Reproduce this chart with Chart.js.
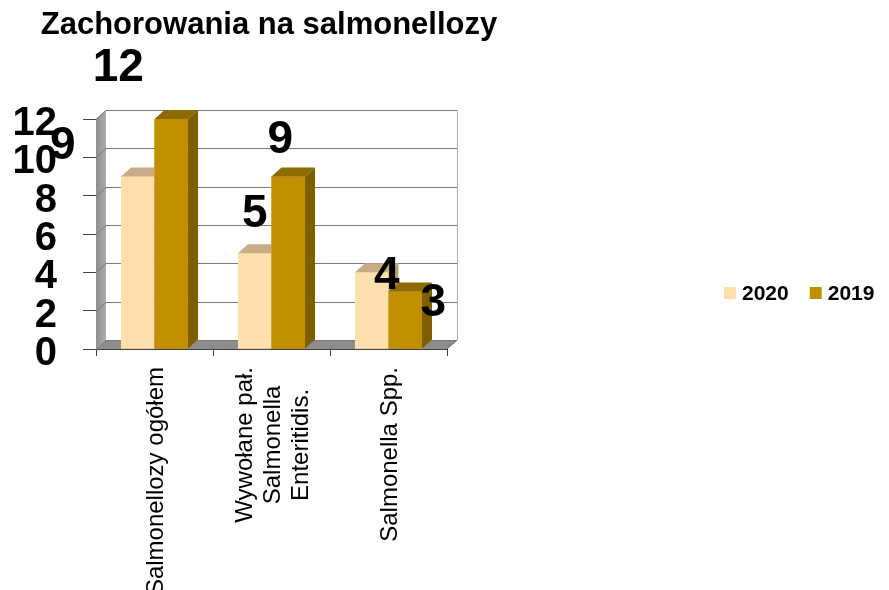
<!DOCTYPE html>
<html>
<head>
<meta charset="utf-8">
<script src="https://cdn.jsdelivr.net/npm/chart.js@4.4.1/dist/chart.umd.min.js"></script>
<style>
  html, body { margin: 0; padding: 0; background: #fff; }
</style>
</head>
<body>
<canvas id="salmonella" width="889" height="590"></canvas>
<script>
const chartTitle = 'Zachorowania na salmonellozy';
const categories = [
  'Salmonellozy ogółem',
  ['Wywołane pał.', 'Salmonella', 'Enteritidis.'],
  'Salmonella Spp.'
];
const seriesNames = ['2020', '2019'];
const values2020 = [9, 5, 4];
const values2019 = [12, 9, 3];
const yTicks = [0, 2, 4, 6, 8, 10, 12];

const FONT = '"Liberation Sans", Arial, sans-serif';
// depth of the fake 3d box
const DX = 10, DY = -9;
const faceColors = [
  {front: '#FFDFAE', top: '#C7AC86', side: '#BBA07A'},
  {front: '#C18F00', top: '#8C6B00', side: '#7D5F00'}
];
// where each value label sits, relative to the top of its bar
const labelOffsets = [
  [[-75, -30], [0, -39], [15, 4]],
  [[-53, -51], [-8, -36], [28, 12]]
];

function poly(ctx, pts, fill) {
  ctx.beginPath();
  ctx.moveTo(pts[0][0], pts[0][1]);
  for (let i = 1; i < pts.length; i++) ctx.lineTo(pts[i][0], pts[i][1]);
  ctx.closePath();
  ctx.fillStyle = fill;
  ctx.fill();
}

const box3d = {
  id: 'box3d',
  beforeDatasetsDraw(chart) {
    const {ctx, chartArea: a, scales: {y}} = chart;
    ctx.save();
    // floor
    poly(ctx, [[a.left, a.bottom], [a.right, a.bottom], [a.right + DX, a.bottom + DY], [a.left + DX, a.bottom + DY]], '#8c8c8c');
    // left wall
    const g = ctx.createLinearGradient(a.left, 0, a.left + DX, 0);
    g.addColorStop(0, '#8e8e8e');
    g.addColorStop(1, '#acacac');
    poly(ctx, [[a.left, a.top], [a.left, a.bottom], [a.left + DX, a.bottom + DY], [a.left + DX, a.top + DY]], g);

    ctx.lineWidth = 1;
    ctx.strokeStyle = '#7a7a7a';
    yTicks.forEach(v => {
      const py = Math.round(y.getPixelForValue(v)) + 0.5;
      ctx.beginPath();
      ctx.moveTo(a.left, py);
      ctx.lineTo(a.left + DX, py + DY);
      ctx.lineTo(a.right + DX, py + DY);
      ctx.stroke();
    });
    // right edge of back wall and floor
    ctx.strokeStyle = '#b0b0b0';
    ctx.beginPath();
    ctx.moveTo(a.right + DX + 0.5, a.top + DY);
    ctx.lineTo(a.right + DX + 0.5, a.bottom + DY);
    ctx.stroke();
    ctx.strokeStyle = '#606060';
    ctx.beginPath();
    ctx.moveTo(a.right, a.bottom);
    ctx.lineTo(a.right + DX, a.bottom + DY);
    ctx.stroke();
    ctx.restore();
  },
  afterDatasetsDraw(chart) {
    // redraw the bars left to right so each front hides the side of the bar before it
    const ctx = chart.ctx;
    ctx.save();
    chart.data.datasets.forEach((ds, i) => {
      const c = faceColors[i];
      chart.getDatasetMeta(i).data.forEach(bar => {
        bar.draw(ctx);
        const {x, y, width, base} = bar.getProps(['x', 'y', 'width', 'base'], true);
        const l = x - width / 2, r = x + width / 2;
        poly(ctx, [[l, y], [r, y], [r + DX, y + DY], [l + DX, y + DY]], c.top);
        poly(ctx, [[r, y], [r, base], [r + DX, base + DY], [r + DX, y + DY]], c.side);
      });
    });
    ctx.restore();
  },
  afterDraw(chart) {
    const ctx = chart.ctx;
    const xs = chart.scales.x;
    ctx.save();
    // title
    ctx.fillStyle = '#000';
    ctx.font = 'bold 31px ' + FONT;
    ctx.textAlign = 'center';
    ctx.textBaseline = 'alphabetic';
    ctx.fillText(chartTitle, 269, 34);

    // category labels, rotated, lines centred on each other
    ctx.font = '24px ' + FONT;
    ctx.textBaseline = 'middle';
    const lh = 28;
    categories.forEach((cat, j) => {
      const lines = Array.isArray(cat) ? cat : [cat];
      const maxW = Math.max(...lines.map(t => ctx.measureText(t).width));
      ctx.save();
      ctx.translate(xs.getPixelForValue(j) + 2, xs.top + 18);
      ctx.rotate(-Math.PI / 2);
      lines.forEach((t, k) => {
        ctx.fillText(t, -maxW / 2, (k - (lines.length - 1) / 2) * lh);
      });
      ctx.restore();
    });

    // value labels
    ctx.font = 'bold 46px ' + FONT;
    ctx.textAlign = 'center';
    ctx.textBaseline = 'middle';
    chart.data.datasets.forEach((ds, i) => {
      chart.getDatasetMeta(i).data.forEach((bar, j) => {
        const off = labelOffsets[i][j];
        ctx.fillText(String(ds.data[j]), bar.x + off[0], bar.y + off[1]);
      });
    });

    // legend
    ctx.font = 'bold 21px ' + FONT;
    ctx.textAlign = 'left';
    let lx = 724;
    const ly = 293;
    chart.data.datasets.forEach(ds => {
      ctx.fillStyle = ds.backgroundColor;
      ctx.fillRect(lx, ly - 6, 12, 12);
      ctx.fillStyle = '#000';
      ctx.fillText(ds.label, lx + 18, ly + 1);
      lx += 18 + ctx.measureText(ds.label).width + 21;
    });
    ctx.restore();
  }
};

new Chart(document.getElementById('salmonella'), {
  type: 'bar',
  data: {
    labels: categories,
    datasets: [{
      label: seriesNames[0],
      data: values2020,
      backgroundColor: faceColors[0].front,
      categoryPercentage: 0.573,
      barPercentage: 1
    }, {
      label: seriesNames[1],
      data: values2019,
      backgroundColor: faceColors[1].front,
      categoryPercentage: 0.573,
      barPercentage: 1
    }]
  },
  options: {
    responsive: false,
    animation: false,
    devicePixelRatio: 1,
    layout: {padding: {top: 119, right: 442, left: 0, bottom: 0}},
    plugins: {
      legend: {display: false},
      title: {display: false},
      tooltip: {enabled: false}
    },
    scales: {
      x: {
        grid: {offset: true, drawOnChartArea: false, color: '#404040', tickLength: 7},
        border: {color: '#404040'},
        ticks: {display: false},
        afterFit: s => { s.height = 241; }
      },
      y: {
        min: 0,
        max: 12,
        afterBuildTicks: s => { s.ticks = yTicks.map(v => ({value: v})); },
        grid: {drawOnChartArea: false, color: '#404040', tickLength: 13},
        border: {color: '#808080'},
        ticks: {
          autoSkip: false,
          color: '#000',
          padding: 26,
          labelOffset: 5,
          font: {family: FONT, size: 40, weight: 'bold'}
        },
        afterFit: s => { s.width = 96; }
      }
    }
  },
  plugins: [box3d]
});
</script>
</body>
</html>
